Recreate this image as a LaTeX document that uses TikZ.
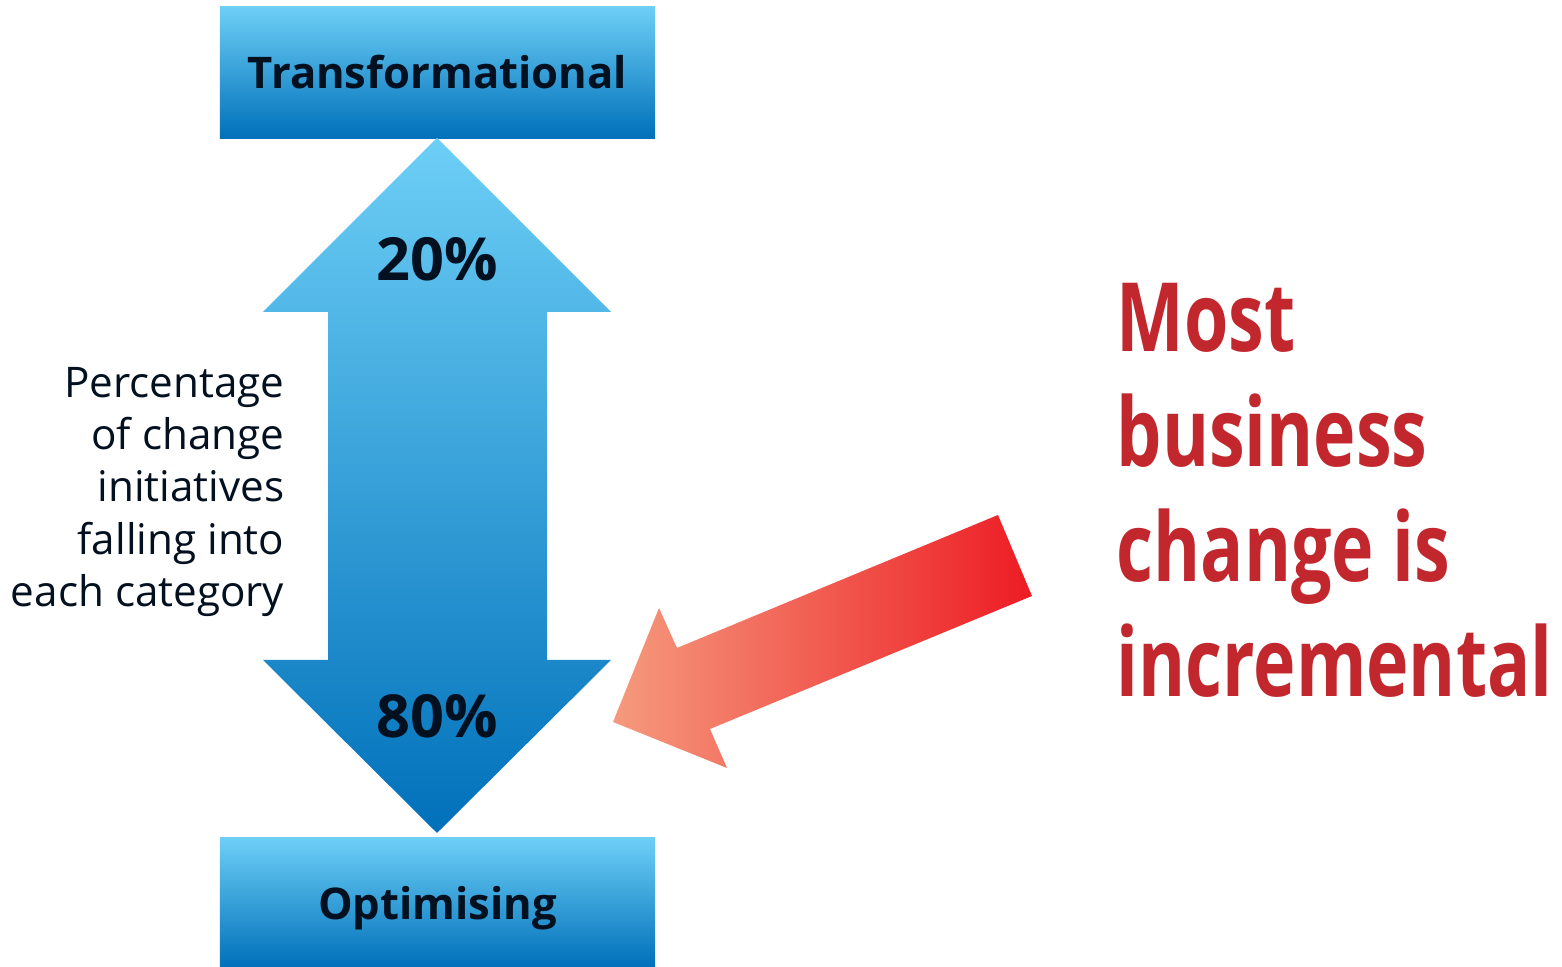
\documentclass[tikz,border=0pt]{standalone}
\usepackage{fontspec}
\setmainfont{Open Sans}
\newfontfamily\condfont[FakeStretch=0.75]{Open Sans}
\usetikzlibrary{positioning}
\definecolor{skyblue}{HTML}{6DCFF6}
\definecolor{deepblue}{HTML}{0070BA}
\definecolor{navytext}{HTML}{02101F}
\definecolor{salmon}{HTML}{F59A7D}
\definecolor{brightred}{HTML}{ED1C24}
\definecolor{headred}{HTML}{C1272D}
\tikzstyle{category} = [rectangle, minimum width=4.35cm, minimum height=1.31cm, text centered, top color=skyblue, bottom color=deepblue, draw=none, font=\fontsize{12.4}{15}\selectfont\bfseries, text=navytext]
\tikzstyle{share} = [font=\fontsize{16.9}{20}\selectfont\bfseries, text=navytext]
\tikzstyle{bigarrow} = [top color=skyblue, bottom color=deepblue, draw=none]
\tikzstyle{pointer} = [left color=salmon, right color=brightred, draw=none]

\begin{document}
\begin{tikzpicture}[x=0.01cm, y=0.01cm]
	\useasboundingbox (0,0) rectangle (1562,967);

	\node (transf) [category] at (437.5,894.5) {Transformational};
	\node (optim) [category, minimum height=1.29cm, text depth=-0.03cm] at (437.5,64.5) {Optimising};

	% two-headed arrow between the categories
	\path [bigarrow] (437,829) -- (611,655) -- (547,655) -- (547,307) -- (611,307) -- (437,134)
		-- (263,307) -- (328,307) -- (328,655) -- (263,655) -- cycle;
	\node (upper) [share] at (437,708) {20\%};
	\node (lower) [share] at (437,251) {80\%};

	\node (caption) [anchor=east, align=right, inner sep=0, text=navytext, font=\fontsize{12}{14.8}\selectfont] at (285,475)
		{Percentage\\of change\\initiatives\\falling into\\each category};

	% red pointer towards the 80%
	\path [pointer] (998,452) -- (1032,371) -- (710,238) -- (727,199) -- (613,245) -- (659,359) -- (677,319) -- cycle;

	\node (claim) [anchor=north west, align=left, inner sep=0, text=headred, font=\condfont\bfseries\fontsize{27.2}{32.7}\selectfont] at (1116,684)
		{Most\\business\\change is\\incremental};

\end{tikzpicture}
\end{document}
